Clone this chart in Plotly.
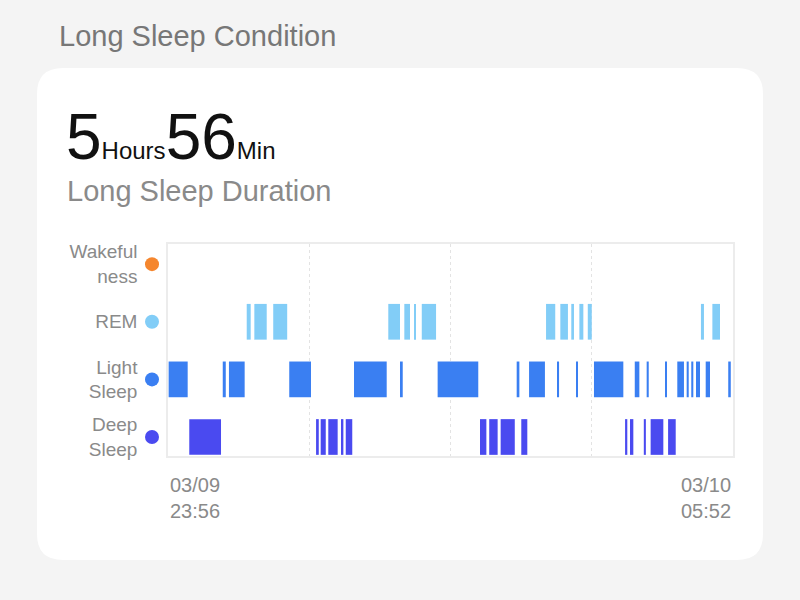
import plotly.graph_objects as go

# ---------------- data ----------------
stage_names = ["Deep<br>Sleep", "Light<br>Sleep", "REM", "Wakeful<br>ness"]
stage_colors = ["#4a4af0", "#3a7ff2", "#82cdf7", "#f5862e"]

# minutes from 03/09 23:56 (total span 356 min, ends 03/10 05:52)
rem_start = [49.6, 54.4, 66.3, 138.8, 148.9, 155.0, 159.9, 238.2, 247.2, 254.1, 259.2, 264.5, 335.8, 343.0]
rem_end   = [52.1, 62.2, 75.1, 146.2, 152.5, 155.9, 168.9, 244.0, 252.0, 255.8, 261.7, 267.0, 337.7, 347.8]

light_start = [0.4, 34.5, 38.4, 76.4, 117.2, 146.8, 169.9, 219.7, 227.5, 245.3, 257.1, 268.4, 294.1, 301.6,
               313.2, 320.9, 326.8, 329.7, 332.7, 338.8, 353.0]
light_end   = [12.4, 36.4, 48.3, 90.1, 137.8, 147.9, 195.5, 221.4, 237.5, 246.4, 258.3, 286.9, 297.0, 302.9,
               314.3, 325.1, 328.1, 331.0, 335.2, 341.5, 354.6]

deep_start = [13.4, 93.3, 96.2, 101.0, 109.0, 112.0, 196.6, 202.4, 209.6, 222.6, 288.0, 291.1, 299.8, 304.1, 315.1]
deep_end   = [33.4, 95.0, 99.4, 106.9, 110.5, 116.1, 200.6, 207.7, 218.5, 226.4, 289.4, 293.2, 301.1, 312.1, 319.9]

wake_start = []
wake_end = []

total_minutes = 356
start_label = "03/09<br>23:56"
end_label = "03/10<br>05:52"
hours_value = "5"
minutes_value = "56"

# ---------------- layout geometry (pixels) ----------------
W, H = 800, 600
PL, PR, PT, PB = 168, 733, 244, 456  # plot area


def px_x(px):
    return (px - PL) / (PR - PL)


def px_y(py):
    return (PB - py) / (PB - PT)


FONT = "Liberation Sans"
GREY = "#8a8a8a"

fig = go.Figure()

segments = [(deep_start, deep_end), (light_start, light_end), (rem_start, rem_end), (wake_start, wake_end)]
for i, (s, e) in enumerate(segments):
    if not s:
        continue
    fig.add_trace(go.Bar(
        orientation="h",
        base=s,
        x=[b - a for a, b in zip(s, e)],
        y=[i] * len(s),
        width=0.62,
        marker=dict(color=stage_colors[i], line=dict(width=0)),
        showlegend=False,
        hoverinfo="skip",
    ))

# coloured dots next to the stage labels (pixel-sized circles on the y scale)
for i, c in enumerate(stage_colors):
    fig.add_shape(type="circle", xref="paper", yref="y",
                  xsizemode="pixel", ysizemode="pixel",
                  xanchor=px_x(152), yanchor=i,
                  x0=-7, x1=7, y0=-7, y1=7,
                  fillcolor=c, line=dict(width=0), layer="above")


# card with rounded corners
def rounded_rect(x0, y0, x1, y1, r):
    def P(x, y):
        return f"{px_x(x):.5f},{px_y(y):.5f}"
    return (f"M {P(x0 + r, y0)} L {P(x1 - r, y0)} Q {P(x1, y0)} {P(x1, y0 + r)} "
            f"L {P(x1, y1 - r)} Q {P(x1, y1)} {P(x1 - r, y1)} "
            f"L {P(x0 + r, y1)} Q {P(x0, y1)} {P(x0, y1 - r)} "
            f"L {P(x0, y0 + r)} Q {P(x0, y0)} {P(x0 + r, y0)} Z")


fig.add_shape(type="path", xref="paper", yref="paper",
              path=rounded_rect(37, 68, 763, 560, 26),
              fillcolor="white", line=dict(width=0), layer="below")

annotations = [
    dict(text="Long Sleep Condition", x=px_x(57), y=px_y(36), xanchor="left", yanchor="middle",
         font=dict(size=29, color="#777777", family=FONT)),
    dict(text=(f"<span style='font-size:64px'>{hours_value}</span>"
               f"<span style='font-size:24px'>Hours</span>"
               f"<span style='font-size:64px'>{minutes_value}</span>"
               f"<span style='font-size:24px'>Min</span>"),
         x=px_x(64), y=px_y(137), xanchor="left", yanchor="middle",
         font=dict(size=24, color="#111111", family=FONT)),
    dict(text="Long Sleep Duration", x=px_x(65), y=px_y(191), xanchor="left", yanchor="middle",
         font=dict(size=29, color=GREY, family=FONT)),
    dict(text=start_label, x=0, y=px_y(498), xanchor="left", yanchor="middle", align="left",
         font=dict(size=20, color=GREY, family=FONT)),
    dict(text=end_label, x=1, y=px_y(498), xanchor="right", yanchor="middle", align="right",
         font=dict(size=20, color=GREY, family=FONT)),
]
for a in annotations:
    a.update(xref="paper", yref="paper", showarrow=False)

fig.update_layout(
    width=W, height=H,
    margin=dict(l=PL, r=W - PR, t=PT, b=H - PB, pad=0),
    paper_bgcolor="#f4f4f4",
    plot_bgcolor="white",
    barmode="overlay",
    annotations=annotations,
    font=dict(family=FONT, color=GREY),
    xaxis=dict(
        range=[0, total_minutes],
        tickvals=[total_minutes / 4, total_minutes / 2, total_minutes * 3 / 4],
        showticklabels=False,
        showgrid=True, gridcolor="#e3e3e3", griddash="dot", gridwidth=1,
        zeroline=False,
        showline=True, mirror=True, linecolor="#ececec", linewidth=1.5,
        fixedrange=True,
    ),
    yaxis=dict(
        range=[-0.33, 3.35],
        tickvals=[0, 1, 2, 3],
        ticktext=stage_names,
        ticks="outside", ticklen=25, tickcolor="rgba(0,0,0,0)",
        tickfont=dict(size=19, color=GREY, family=FONT),
        showgrid=False, zeroline=False,
        showline=True, mirror=True, linecolor="#ececec", linewidth=1.5,
        fixedrange=True,
    ),
)

fig.write_html("out.html", config={"displayModeBar": False},
               post_script="document.body.style.margin='0';document.body.style.overflow='hidden';")
